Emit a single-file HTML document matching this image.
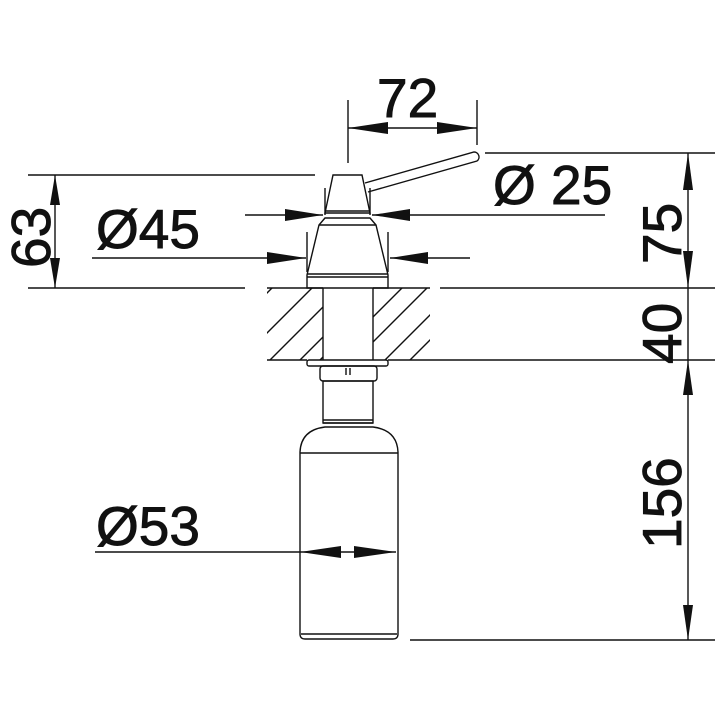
<!DOCTYPE html>
<html><head><meta charset="utf-8"><style>html,body{margin:0;padding:0;background:#fff}svg{display:block}</style></head>
<body>
<svg width="720" height="720" viewBox="0 0 720 720" xmlns="http://www.w3.org/2000/svg" font-family="Liberation Sans, sans-serif">
<defs>
<clipPath id="hl"><rect x="267" y="288" width="56" height="72"/></clipPath>
<clipPath id="hr"><rect x="373" y="288" width="57" height="72"/></clipPath>
</defs>
<g stroke="#111" stroke-width="1.4" fill="none">
<line x1="28" y1="175" x2="315" y2="175"/>
<line x1="28" y1="288" x2="245" y2="288"/>
<line x1="440" y1="288" x2="715" y2="288"/>
<line x1="485" y1="153" x2="715" y2="153"/>
<line x1="430" y1="360" x2="715" y2="360"/>
<line x1="410" y1="640" x2="715" y2="640"/>
<line x1="55" y1="175" x2="55" y2="288"/>
<line x1="688" y1="153" x2="688" y2="640"/>
<line x1="348" y1="100" x2="348" y2="163"/>
<line x1="477" y1="100" x2="477" y2="145"/>
<line x1="348" y1="128" x2="477" y2="128"/>
<line x1="245" y1="215" x2="323" y2="215"/>
<line x1="372" y1="215" x2="605" y2="215"/>
<line x1="92" y1="258" x2="306" y2="258"/>
<line x1="390" y1="258" x2="470" y2="258"/>
<line x1="95" y1="552" x2="396" y2="552"/>
<line x1="325" y1="188" x2="325" y2="215"/><line x1="370" y1="188" x2="370" y2="215"/>
<line x1="307" y1="232" x2="307" y2="272"/><line x1="388" y1="232" x2="388" y2="272"/>
<line x1="267" y1="288" x2="323" y2="288"/><line x1="373" y1="288" x2="430" y2="288"/>
<line x1="267" y1="360" x2="307" y2="360"/><line x1="388" y1="360" x2="430" y2="360"/>
<g clip-path="url(#hl)">
<line x1="250" y1="350" x2="330" y2="270"/><line x1="250" y1="380" x2="340" y2="290"/><line x1="270" y1="390" x2="360" y2="300"/><line x1="290" y1="390" x2="380" y2="300"/><line x1="230" y1="330" x2="300" y2="260"/>
</g>
<g clip-path="url(#hr)">
<line x1="360" y1="330" x2="420" y2="270"/><line x1="360" y1="355" x2="440" y2="275"/><line x1="370" y1="375" x2="460" y2="285"/><line x1="395" y1="375" x2="480" y2="290"/><line x1="340" y1="320" x2="400" y2="260"/>
</g>
<line x1="323" y1="288" x2="323" y2="360"/><line x1="373" y1="288" x2="373" y2="360"/>
<path d="M333 175 L362 175 L370 213 L325 213 Z"/>
<line x1="325" y1="211" x2="370" y2="211"/>
<path d="M365 183 L474 152 A5 5 0 0 1 477 161 L368 192"/>
<path d="M325 218 L370 218 L376 225 L388 275 L388 288 L307 288 L307 275 L319 225 Z"/>
<line x1="319" y1="225" x2="376" y2="225"/>
<line x1="307" y1="274" x2="388" y2="274"/><line x1="307" y1="277" x2="388" y2="277"/>
<rect x="307" y="360" width="81" height="6" rx="2"/>
<rect x="320" y="366" width="57" height="15" rx="3"/>
<line x1="346" y1="368" x2="346" y2="375"/><line x1="350" y1="368" x2="350" y2="375"/>
<rect x="323" y="381" width="50" height="42"/>
<line x1="323" y1="420" x2="373" y2="420"/><line x1="323" y1="423" x2="373" y2="423"/>
<path d="M325 427 L373 427 Q397 430 398 452 L398 634 Q398 639 393 639 L305 639 Q300 639 300 634 L300 452 Q301 430 325 427 Z"/>
<line x1="300" y1="453" x2="398" y2="453"/>
<line x1="301" y1="634" x2="397" y2="634"/>
</g>
<g fill="#111">
<path d="M55 175 L50 205 L60 205 Z"/><path d="M55 288 L50 258 L60 258 Z"/>
<path d="M688 153 L683 190 L693 190 Z"/><path d="M688 288 L683 251 L693 251 Z"/>
<path d="M688 360 L683 395 L693 395 Z"/><path d="M688 640 L683 605 L693 605 Z"/>
<path d="M348 128 L388 122 L388 134 Z"/><path d="M477 128 L437 122 L437 134 Z"/>
<path d="M323 215 L285 209 L285 221 Z"/><path d="M372 215 L410 209 L410 221 Z"/>
<path d="M306 258 L267 252 L267 264 Z"/><path d="M390 258 L428 252 L428 264 Z"/>
<path d="M300 552 L341 546 L341 558 Z"/><path d="M396 552 L354 546 L354 558 Z"/>
</g>
<g fill="#111" stroke="#111" stroke-width="0.9" font-size="55">
<text x="377" y="117">72</text>
<text x="493" y="204">Ø 25</text>
<text x="96" y="248">Ø45</text>
<text x="96" y="545">Ø53</text>
<text transform="translate(50,268) rotate(-90)">63</text>
<text transform="translate(681,264) rotate(-90)">75</text>
<text transform="translate(681,364) rotate(-90)">40</text>
<text transform="translate(681,549) rotate(-90)">156</text>
</g>
</svg>
</body></html>
